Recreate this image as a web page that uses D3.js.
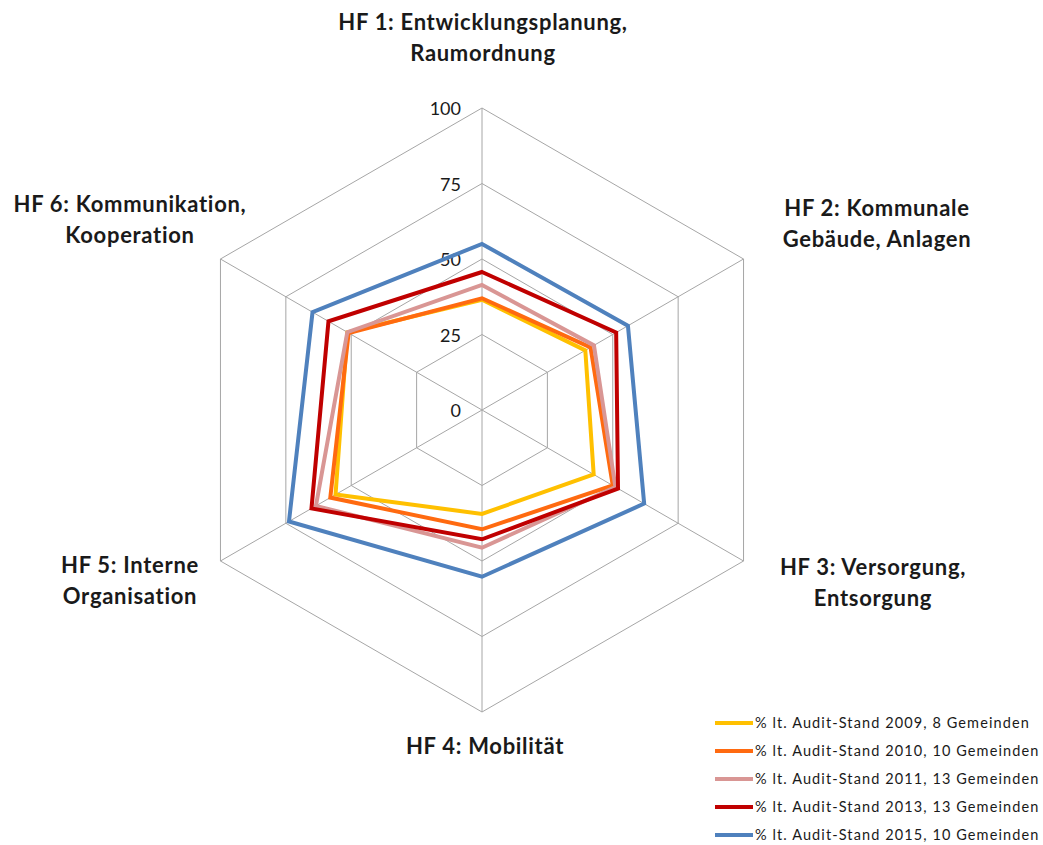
<!DOCTYPE html>
<html>
<head>
<meta charset="utf-8">
<script src="https://cdn.jsdelivr.net/npm/d3@7"></script>
<style>
  body { margin: 0; background: #fff; }
  #svg-container { width: 1043px; height: 845px; }
  text { font-family: Lato, "Open Sans", sans-serif; fill: #1a1a1a; }
</style>
</head>
<body>
<div id="svg-container"></div>
<script>
// Daten
const axes = [
  ["HF 1: Entwicklungsplanung,", "Raumordnung"],
  ["HF 2: Kommunale", "Gebäude, Anlagen"],
  ["HF 3: Versorgung,", "Entsorgung"],
  ["HF 4: Mobilität"],
  ["HF 5: Interne", "Organisation"],
  ["HF 6: Kommunikation,", "Kooperation"]
];
const seriesNames = [
  "% lt. Audit-Stand 2009, 8 Gemeinden",
  "% lt. Audit-Stand 2010, 10 Gemeinden",
  "% lt. Audit-Stand 2011, 13 Gemeinden",
  "% lt. Audit-Stand 2013, 13 Gemeinden",
  "% lt. Audit-Stand 2015, 10 Gemeinden"
];
const v2009 = [36.5, 39.5, 42.7, 34.4, 56, 51.5];
const v2010 = [37, 41.5, 50, 39.5, 58, 51];
const v2011 = [41.4, 42.8, 51, 45.6, 63.5, 51.5];
const v2013 = [45.7, 51.3, 52, 42.8, 65.2, 58.7];
const v2015 = [55, 55.8, 62, 55.2, 73.8, 64.8];
const ticks = [0, 25, 50, 75, 100];
const colors = ["#FFC000", "#FF6A10", "#D99694", "#C00000", "#4F81BD"];

const seriesValues = [v2009, v2010, v2011, v2013, v2015];

////////////////////////////  Init  ///////////////////////////////
const width = 1043, height = 845;
const cx = 482, cy = 410;

const svg = d3.select("#svg-container").append("svg")
  .attr("width", width).attr("height", height);

const r = d3.scaleLinear().domain([0, 100]).range([0, 302]);
const angle = d3.scaleLinear().domain([0, axes.length]).range([0, 2 * Math.PI]);

const pt = (i, v) => [cx + r(v) * Math.sin(angle(i)), cy - r(v) * Math.cos(angle(i))];

const g = svg.append("g");

// Gitter
ticks.filter(t => t > 0).forEach(t => {
  g.append("path")
    .attr("d", d3.line()(axes.map((a, i) => pt(i, t))) + "Z")
    .attr("fill", "none")
    .attr("stroke", "#a6a6a6")
    .attr("stroke-width", 1);
});
axes.forEach((a, i) => {
  g.append("line")
    .attr("x1", cx).attr("y1", cy)
    .attr("x2", pt(i, 100)[0]).attr("y2", pt(i, 100)[1])
    .attr("stroke", "#a6a6a6")
    .attr("stroke-width", 1);
});

// Achsenbeschriftung
g.selectAll(".tick")
  .data(ticks)
  .join("text")
  .attr("x", cx - 21)
  .attr("y", d => cy - r(d) + 7)
  .attr("text-anchor", "end")
  .attr("font-size", 18)
  .text(d => d);

// Linien
const radar = d3.lineRadial()
  .angle((d, i) => angle(i))
  .radius(d => r(d))
  .curve(d3.curveLinearClosed);

g.selectAll(".series")
  .data(seriesValues)
  .join("path")
  .attr("transform", `translate(${cx},${cy})`)
  .attr("d", radar)
  .attr("fill", "none")
  .attr("stroke", (d, i) => colors[i])
  .attr("stroke-width", 4)
  .attr("stroke-linejoin", "miter");

// Kategorien
const labelPos = [[483, 30], [877, 216], [873, 575], [485, 754], [130, 573], [130, 212]];
axes.forEach((lines, i) => {
  const t = svg.append("text")
    .attr("x", labelPos[i][0])
    .attr("y", labelPos[i][1])
    .attr("text-anchor", "middle")
    .attr("font-size", 22)
    .attr("letter-spacing", 0.7)
    .attr("font-weight", "bold");
  lines.forEach((l, j) => {
    t.append("tspan").attr("x", labelPos[i][0]).attr("dy", j === 0 ? 0 : 31).text(l);
  });
});

// Legende
const legend = svg.append("g").attr("transform", "translate(715,723)");
const item = legend.selectAll("g")
  .data(seriesNames)
  .join("g")
  .attr("transform", (d, i) => `translate(0,${i * 28})`);
item.append("line")
  .attr("x1", 0).attr("x2", 38)
  .attr("stroke", (d, i) => colors[i])
  .attr("stroke-width", 4);
item.append("text")
  .attr("x", 40)
  .attr("y", 5)
  .attr("font-size", 14.5)
  .attr("letter-spacing", 1.1)
  .text(d => d);
</script>
</body>
</html>
